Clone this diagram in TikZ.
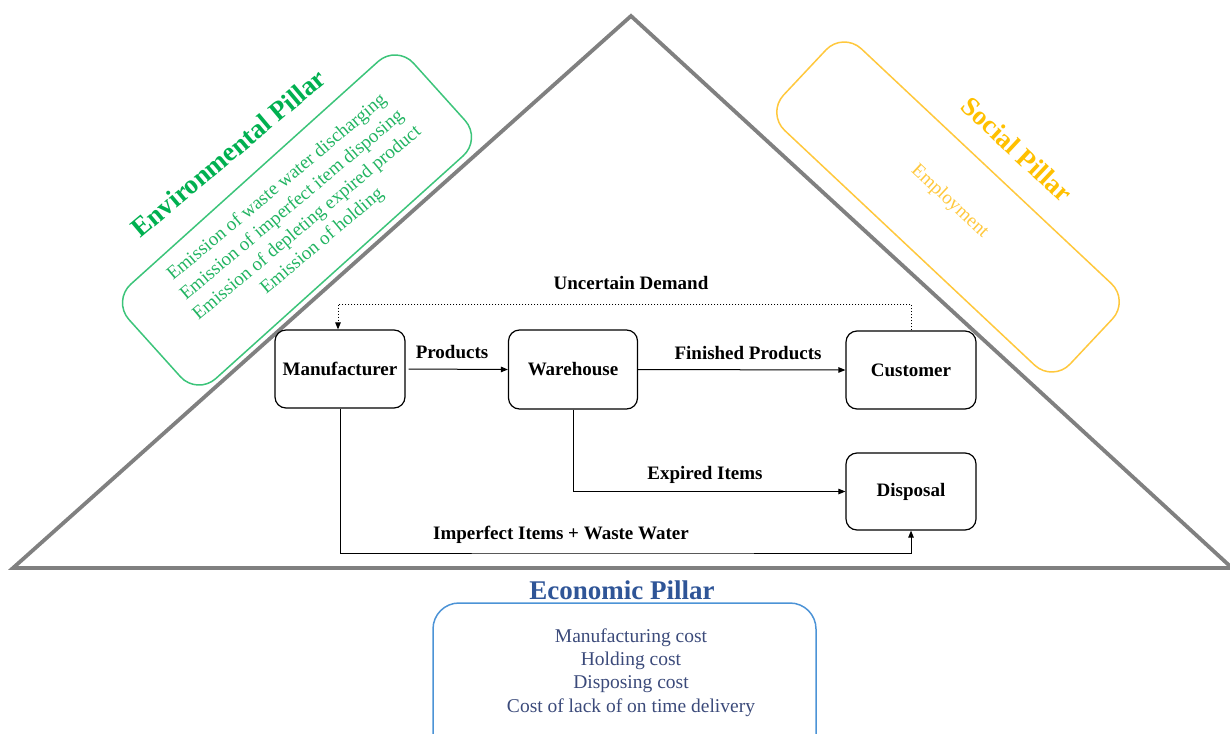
\documentclass[tikz,border=0pt]{standalone}
\usepackage{fontspec}
\setmainfont{Liberation Serif}
\usetikzlibrary{arrows.meta}
\definecolor{trigray}{HTML}{808080}
\definecolor{envtitlec}{HTML}{00B050}
\definecolor{envitemc}{HTML}{22B462}
\definecolor{envboxc}{HTML}{3CC47A}
\definecolor{soctitlec}{HTML}{FFC000}
\definecolor{socitemc}{HTML}{FFC83D}
\definecolor{socboxc}{HTML}{FFC83D}
\definecolor{ecotitlec}{HTML}{2F5597}
\definecolor{ecoitemc}{HTML}{3B4A7A}
\definecolor{ecoboxc}{HTML}{4C93D6}
\begin{document}
\begin{tikzpicture}[x=1pt,y=-1pt,
  tri/.style={draw=trigray, line width=3.8pt, line join=miter},
  flowbox/.style={draw=black, line width=1.2pt, rounded corners=11pt, minimum width=130pt, minimum height=78pt, inner sep=0pt, font=\fontsize{19}{22}\selectfont\bfseries},
  lbl/.style={inner sep=0pt, font=\fontsize{19}{22}\selectfont\bfseries},
  arr/.style={draw=black, line width=1pt, -{Triangle[length=7pt,width=5.5pt]}},
  dotarr/.style={draw=black, line width=1pt, dash pattern=on 1.5pt off 1.5pt, -{Triangle[length=7pt,width=5.5pt]}},
  ptitle/.style={inner sep=0pt, font=\fontsize{27}{30}\selectfont\bfseries},
  pitems/.style={inner sep=0pt, align=center},
  pbox/.style={line width=1.5pt, inner sep=0pt}
]
\useasboundingbox (0,0) rectangle (1230,733);

% main triangle
\draw[tri] (631,16) -- (1232,568) -- (13,568) -- cycle;

% environmental pillar
\node[pbox, draw=envboxc, rounded corners=25pt, minimum width=383pt, minimum height=127pt, rotate=42] (envbox) at (297,220) {};
\begin{scope}[shift={(299,223)}, rotate=40, transform shape]
  \node[ptitle, text=envtitlec] (envtitle) at (-9,-99) {Environmental Pillar};
  \node[pitems, text=envitemc, font=\fontsize{19}{23.4}\selectfont] (envitems) at (6,-6)
    {Emission of waste water discharging\\Emission of imperfect item disposing\\Emission of depleting expired product\\Emission of holding};
\end{scope}

% social pillar
\node[pbox, draw=socboxc, rounded corners=25pt, minimum width=393pt, minimum height=112pt, rotate=-43.2] (socbox) at (948,207) {};
\begin{scope}[shift={(949,205)}, rotate=-43, transform shape]
  \node[ptitle, text=soctitlec] (soctitle) at (12,-87) {Social Pillar};
  \node[pitems, text=socitemc, font=\fontsize{19}{22}\selectfont] (socitems) at (-2,-3) {Employment};
\end{scope}

% economic pillar
\node[ptitle, text=ecotitlec] (ecotitle) at (622,590) {Economic Pillar};
\node[pbox, draw=ecoboxc, rounded corners=26pt, minimum width=383pt, minimum height=160pt] (ecobox) at (624.5,683) {};
\node[pitems, text=ecoitemc, font=\fontsize{19.5}{23.3}\selectfont] (ecoitems) at (631,672.5)
  {Manufacturing cost\\Holding cost\\Disposing cost\\Cost of lack of on time delivery};

% flow nodes
\node[flowbox] (man) at (340,369) {Manufacturer};
\node[flowbox, minimum width=129pt, minimum height=79pt] (wh) at (573,369.5) {Warehouse};
\node[flowbox] (cust) at (911,370) {Customer};
\node[flowbox, minimum height=77pt] (disp) at (911,491.5) {Disposal};

\coordinate (ud) at (631,304);
\coordinate (iw) at (600,553);

% connectors
\draw[arr] ([xshift=3pt]man.east) -- (wh.west);
\draw[arr] (wh.east) -- (cust.west);
\draw[dotarr] (cust.north) |- (ud) -| ([xshift=-2pt]man.north);
\draw[arr] (wh.south) |- (disp.west);
\draw[arr] (man.south) |- (iw) -| (disp.south);

% labels
\node[lbl] (lud) at (631,283) {Uncertain Demand};
\node[lbl] (lprod) at (452,352) {Products};
\node[lbl] (lfin) at (748,353) {Finished Products};
\node[lbl] (lexp) at (705,475) {Expired Items};
\node[lbl] (limp) at (561,535) {Imperfect Items + Waste Water};
\end{tikzpicture}
\end{document}
